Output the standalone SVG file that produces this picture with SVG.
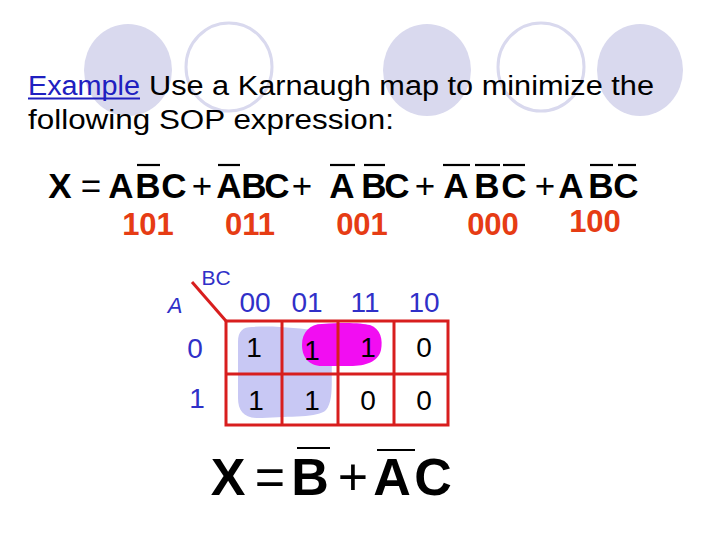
<svg xmlns="http://www.w3.org/2000/svg" width="720" height="540" viewBox="0 0 720 540">
<style>
.bgf{fill:#d9d9ee}
.bgo{fill:none;stroke:#d9d9ee;stroke-width:3}
.t{font-family:"Liberation Sans","DejaVu Sans",sans-serif}
.title{font-size:27px;fill:#000}
.eq{font-size:35px;fill:#000;text-anchor:middle;font-weight:bold}
.eq2{font-size:52px;fill:#000;text-anchor:middle;font-weight:bold}
.op{font-weight:normal}
.bar{stroke:#000;stroke-width:2.2}
.red{font-size:31px;fill:#e63c14;text-anchor:middle;font-weight:bold}
.blue{fill:#3030c8;text-anchor:middle}
.cell{font-size:28px;fill:#000;text-anchor:middle}
.grid{stroke:#d81e1e;stroke-width:3;fill:none}
</style>
<rect width="720" height="540" fill="#fff"/>
<g id="background">
<ellipse class="bgf" cx="128" cy="70" rx="44" ry="46"/>
<ellipse class="bgo" cx="229" cy="67" rx="43" ry="44"/>
<ellipse class="bgf" cx="427" cy="70" rx="44" ry="46"/>
<ellipse class="bgo" cx="541" cy="67" rx="43" ry="44"/>
<ellipse class="bgf" cx="640" cy="70" rx="43" ry="46"/>
</g>
<g id="title" class="t">
<text class="title" x="28" y="95" style="fill:#2020c0" textLength="112" lengthAdjust="spacingAndGlyphs">Example</text>
<line x1="28" y1="98.5" x2="140" y2="98.5" stroke="#2020c0" stroke-width="2"/>
<text class="title" x="149" y="95" textLength="505" lengthAdjust="spacingAndGlyphs">Use a Karnaugh map to minimize the</text>
<text class="title" x="28" y="129" textLength="366" lengthAdjust="spacingAndGlyphs">following SOP expression:</text>
</g>
<g id="expression" class="t">
<text class="eq" y="198"><tspan x="60">X</tspan><tspan x="91" class="op">=</tspan><tspan x="121">A</tspan><tspan x="148">B</tspan><tspan x="174">C</tspan><tspan x="202" class="op">+</tspan><tspan x="229">A</tspan><tspan x="254">B</tspan><tspan x="277">C</tspan><tspan x="302" class="op">+</tspan><tspan x="342">A</tspan><tspan x="374">B</tspan><tspan x="397">C</tspan><tspan x="425" class="op">+</tspan><tspan x="456">A</tspan><tspan x="487">B</tspan><tspan x="514">C</tspan><tspan x="545" class="op">+</tspan><tspan x="571">A</tspan><tspan x="601">B</tspan><tspan x="626">C</tspan></text>
<g class="bar">
<line x1="137" y1="165" x2="160" y2="165"/>
<line x1="218" y1="165" x2="240" y2="165"/>
<line x1="330" y1="165" x2="355" y2="165"/>
<line x1="364" y1="165" x2="385" y2="165"/>
<line x1="443" y1="165" x2="470" y2="165"/>
<line x1="475" y1="165" x2="500" y2="165"/>
<line x1="503" y1="165" x2="525" y2="165"/>
<line x1="590" y1="165" x2="613" y2="165"/>
<line x1="618" y1="165" x2="636" y2="165"/>
</g>
<text class="red" x="148" y="235">101</text>
<text class="red" x="250" y="235">011</text>
<text class="red" x="362" y="235">001</text>
<text class="red" x="493" y="235">000</text>
<text class="red" x="595" y="232">100</text>
</g>
<g id="kmap" class="t">
<path d="M252 327 C275 325 300 329 318 330 C331 332 333 345 332 360 C331 380 334 400 326 410 C318 418 290 416 262 418 C245 419 238 412 238 398 L238 342 C238 331 243 327 252 327 Z" fill="#c8c8f4"/>
<path d="M322 324 C345 322 362 323 370 325 C381 329 383 340 381 350 C378 362 366 366 350 366 L322 366 C308 366 302 356 302 345 C302 332 310 324 322 324 Z" fill="#f20df2"/>
<g class="grid">
<rect x="226" y="321" width="222" height="104"/>
<line x1="226" y1="374" x2="448" y2="374"/>
<line x1="282" y1="321" x2="282" y2="425"/>
<line x1="338" y1="321" x2="338" y2="425"/>
<line x1="394" y1="321" x2="394" y2="425"/>
<line x1="192" y1="282" x2="226" y2="321"/>
</g>
<text class="blue" x="175" y="313" font-size="22" font-style="italic">A</text>
<text class="blue" x="216" y="285" font-size="21">BC</text>
<g font-size="28">
<text class="blue" x="255" y="312">00</text>
<text class="blue" x="307" y="312">01</text>
<text class="blue" x="365" y="312">11</text>
<text class="blue" x="424" y="312">10</text>
<text class="blue" x="195" y="358">0</text>
<text class="blue" x="197" y="408">1</text>
</g>
<text class="cell" x="254" y="357">1</text>
<text class="cell" x="312" y="360">1</text>
<text class="cell" x="368" y="357">1</text>
<text class="cell" x="424" y="357">0</text>
<text class="cell" x="256" y="410">1</text>
<text class="cell" x="312" y="410">1</text>
<text class="cell" x="368" y="410">0</text>
<text class="cell" x="424" y="410">0</text>
</g>
<g id="result" class="t">
<text class="eq2" y="495"><tspan x="228">X</tspan><tspan x="270" class="op">=</tspan><tspan x="310">B</tspan><tspan x="353" class="op">+</tspan><tspan x="392">A</tspan><tspan x="433">C</tspan></text>
<line class="bar" x1="297" y1="448" x2="330" y2="448"/>
<line class="bar" x1="377" y1="450" x2="415" y2="450"/>
</g>
</svg>
